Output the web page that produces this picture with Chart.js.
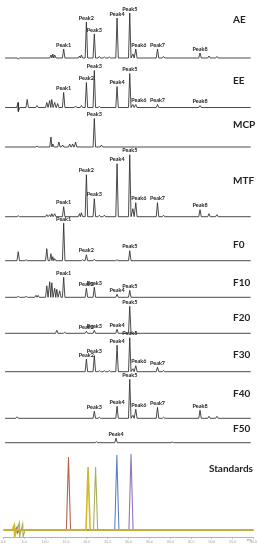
<!DOCTYPE html>
<html>
<head>
<meta charset="utf-8">
<title>HPLC chromatograms</title>
<script src="https://cdn.jsdelivr.net/npm/chart.js"></script>
<style>
  body { margin: 0; background: #fff; }
  #wrap { width: 258px; height: 550px; }
</style>
</head>
<body>
<div id="wrap"><canvas id="chromChart" width="258" height="550"></canvas></div>
<script>
// retention time (min), peak height (relative response), peak name
const aeTime   = [3.55, 11.4, 11.85, 12.3, 14.45, 18.25, 18.7, 19.9, 21.8, 23.0, 24.2, 25.4, 27.25, 30.3, 31.05, 31.75, 36.95, 38.4, 47.15, 49.3, 51.2];
const aeHeight = [-1, 3, 4, 3, 9, 2, 3, 36, 24, 1.5, 1, 1, 40, 45, 4, 9, 9, 1.5, 5, 2, 1.5];
const aePeak   = [null, null, null, null, 'Peak1', null, null, 'Peak2', 'Peak3', null, null, null, 'Peak4', 'Peak5', null, 'Peak6', 'Peak7', null, 'Peak8', null, null];

const eeTime   = [3.5, 3.6, 5.7, 8.05, 10.4, 11.1, 11.6, 12.3, 13.0, 14.45, 17.3, 18.7, 19.9, 21.8, 23.0, 27.25, 30.3, 31.05, 31.75, 36.95, 47.15];
const eeHeight = [5, -4, 8, 2, 5, 7, 8, 5, 4, 15, 1.5, 2, 25, 37, 1, 21, 34, 3, 3, 3, 2];
const eePeak   = [null, null, null, null, null, null, null, null, null, 'Peak1', null, null, 'Peak2', 'Peak3', null, 'Peak4', 'Peak5', null, 'Peak6', 'Peak7', 'Peak8'];

const mcpTime   = [8.05, 11.4, 11.85, 13.3, 14.2, 15.9, 16.6, 17.3, 21.8, 23.5];
const mcpHeight = [1, 10, 3, 5, 2, 3, 3, 5, 28.5, 2];
const mcpPeak   = [null, null, null, null, null, null, null, null, 'Peak3', null];

const mtfTime   = [3.55, 10.4, 11.1, 11.6, 12.3, 14.45, 18.25, 18.7, 19.9, 21.8, 23.0, 24.2, 27.25, 30.3, 31.05, 31.75, 36.95, 38.4, 47.15, 49.3, 51.2];
const mtfHeight = [1, 2, 2, 3, 3, 10, 3, 4, 42, 18, 1.5, 1.5, 53, 62, 8, 14, 14, 1.5, 7, 3, 2];
const mtfPeak   = [null, null, null, null, null, 'Peak1', null, null, 'Peak2', 'Peak3', null, null, 'Peak4', 'Peak5', null, 'Peak6', 'Peak7', null, 'Peak8', null, null];

const f0Time   = [3.55, 5.45, 10.4, 11.4, 11.85, 12.3, 14.45, 19.0, 19.9, 21.8, 27.25, 30.3];
const f0Height = [9, 1, 12, 7, 4, 2, 37.5, 1, 6, 1.5, 1, 10];
const f0Peak   = [null, null, null, null, null, null, 'Peak1', null, 'Peak2', null, null, 'Peak5'];

const f10Time   = [3.55, 5.45, 7.8, 8.3, 10.4, 11.1, 11.6, 12.3, 12.8, 13.5, 14.45, 19.9, 21.8, 27.25, 30.3];
const f10Height = [1, 1, 2, 2, 11.5, 15.5, 14.5, 9, 8, 6.5, 20, 9, 10, 3, 7];
const f10Peak   = [null, null, null, null, null, null, null, null, null, null, 'Peak1', 'Peak2', 'Peak3', 'Peak4', 'Peak5'];

const f20Time   = [12.8, 14.7, 19.9, 21.8, 27.25, 30.3];
const f20Height = [3, 1, 2, 3, 4, 27];
const f20Peak   = [null, null, 'Peak2', 'Peak3', 'Peak4', 'Peak5'];

const f30Time   = [19.9, 21.8, 23.0, 24.2, 25.4, 27.25, 30.3, 31.05, 31.75, 36.95, 38.4];
const f30Height = [12.5, 16, 1, 1, 1, 26.5, 34, 3, 6, 4.5, 1];
const f30Peak   = ['Peak2', 'Peak3', null, null, null, 'Peak4', 'Peak5', null, 'Peak6', 'Peak7', null];

const f40Time   = [3.3, 21.8, 23.0, 27.25, 30.3, 31.05, 31.75, 36.95, 38.4, 47.15, 49.3, 51.2];
const f40Height = [1.5, 7, 1, 12, 39, 3, 9, 11, 1, 8, 2, 2];
const f40Peak   = [null, 'Peak3', null, 'Peak4', 'Peak5', null, 'Peak6', 'Peak7', null, 'Peak8', null, null];

const f50Time   = [22.3, 27.0, 40.5];
const f50Height = [1, 4.5, 0.7];
const f50Peak   = [null, 'Peak4', null];

// standards, one trace per compound (first one is drawn on top)
const stdNames  = ['yellow', 'olive', 'red', 'blue', 'purple'];
const stdTime   = [[2.6, 2.7, 20.3], [3.8, 3.9, 4.6, 4.7, 22.1], [3.3, 3.4, 15.6], [27.2], [30.6]];
const stdHeight = [[5, -7, 63], [7, -7, 6, -7, 63], [3, -3, 73], [75], [76]];

const xTicks = [0, 5, 10, 15, 20, 25, 30, 35, 40, 45, 50, 55, 60];

// layout: baseline pixel and name label pixel for each trace
const panels = [
  { name: 'AE',  time: aeTime,  height: aeHeight,  peak: aePeak,  base: 58,    nameY: 20 },
  { name: 'EE',  time: eeTime,  height: eeHeight,  peak: eePeak,  base: 107.5, nameY: 81 },
  { name: 'MCP', time: mcpTime, height: mcpHeight, peak: mcpPeak, base: 147,   nameY: 125 },
  { name: 'MTF', time: mtfTime, height: mtfHeight, peak: mtfPeak, base: 216.7, nameY: 181 },
  { name: 'F0',  time: f0Time,  height: f0Height,  peak: f0Peak,  base: 260.7, nameY: 245 },
  { name: 'F10', time: f10Time, height: f10Height, peak: f10Peak, base: 297.3, nameY: 283 },
  { name: 'F20', time: f20Time, height: f20Height, peak: f20Peak, base: 333.3, nameY: 318 },
  { name: 'F30', time: f30Time, height: f30Height, peak: f30Peak, base: 371.7, nameY: 355 },
  { name: 'F40', time: f40Time, height: f40Height, peak: f40Peak, base: 418.3, nameY: 394 },
  { name: 'F50', time: f50Time, height: f50Height, peak: f50Peak, base: 442.7, nameY: 429 }
];
const stdBase = 530;
const stdNameY = 469;
const stdColors = { purple: '#9474bd', blue: '#5f83c9', red: '#b3654f', olive: '#a8ae5c', yellow: '#d2b92c' };

const AREA_H = 537; // chart area height, x axis below

// peak list -> line points (baseline feet either side of each apex)
function tracePoints(times, heights, w, t0, t1) {
  const pts = [{ x: t0, y: 0 }];
  for (let i = 0; i < times.length; i++) {
    const t = times[i];
    let left = t - w, right = t + w;
    if (i > 0) left = Math.max(left, (times[i - 1] + t) / 2);
    if (i < times.length - 1) right = Math.min(right, (t + times[i + 1]) / 2);
    if (pts[pts.length - 1].x < left) pts.push({ x: left, y: 0 });
    pts.push({ x: t, y: heights[i] });
    pts.push({ x: right, y: 0 });
  }
  pts.push({ x: t1, y: 0 });
  return pts;
}

const datasets = [];
const scales = {
  x: {
    type: 'linear', min: 0, max: 60,
    afterBuildTicks: function(s) { s.ticks = xTicks.map(v => ({ value: v })); },
    afterFit: function(s) { s.height = 550 - AREA_H; },
    grid: { drawOnChartArea: false, drawTicks: true, tickLength: 2, color: '#a0a0a0', lineWidth: 0.6 },
    border: { color: '#a0a0a0', width: 0.8 },
    ticks: { font: { size: 3.5, family: 'Liberation Sans' }, color: '#999', padding: 1, maxRotation: 0, autoSkip: false,
             callback: v => v.toFixed(1) }
  }
};

panels.forEach((p, i) => {
  const id = 'y' + i;
  scales[id] = { type: 'linear', display: false, min: p.base - AREA_H, max: p.base };
  datasets.push({
    label: p.name,
    yAxisID: id,
    data: tracePoints(p.time, p.height, 0.3, 0.4, 59.3),
    borderColor: '#2a2a2a',
    borderWidth: 0.85,
    pointRadius: 0,
    peakNames: p.peak,
    peakTimes: p.time,
    peakHeights: p.height,
    nameY: p.nameY
  });
});

scales.yStd = { type: 'linear', display: false, min: stdBase - AREA_H, max: stdBase };
stdNames.forEach((c, i) => {
  datasets.push({
    label: 'Standards ' + c,
    yAxisID: 'yStd',
    data: tracePoints(stdTime[i], stdHeight[i], 0.5, 0, 60),
    borderColor: stdColors[c],
    borderWidth: c === 'yellow' ? 1.6 : 1.1,
    pointRadius: 0
  });
});

const labelPlugin = {
  id: 'peakLabels',
  afterDatasetsDraw(chart) {
    const ctx = chart.ctx;
    const x = chart.scales.x;
    ctx.save();
    ctx.fillStyle = '#222';
    chart.data.datasets.forEach(ds => {
      if (!ds.peakNames) return;
      const y = chart.scales[ds.yAxisID];
      ctx.font = 'bold 5.5px Lato';
      ctx.textAlign = 'center';
      ctx.textBaseline = 'alphabetic';
      ds.peakNames.forEach((n, i) => {
        if (!n) return;
        const nudge = n === 'Peak6' ? 3 : 0;
        ctx.fillText(n, x.getPixelForValue(ds.peakTimes[i]) + nudge, y.getPixelForValue(ds.peakHeights[i]) - 2.5);
      });
      ctx.font = 'bold 10px Lato';
      ctx.textAlign = 'left';
      ctx.textBaseline = 'middle';
      ctx.fillText(ds.label, 233, ds.nameY);
    });
    ctx.font = 'bold 10px Lato';
    ctx.textAlign = 'right';
    ctx.textBaseline = 'middle';
    ctx.fillText('Standards', 253, stdNameY);
    ctx.font = '3px Liberation Sans';
    ctx.fillStyle = '#888';
    ctx.textAlign = 'right';
    ctx.fillText('min', x.right - 2, x.top + 3.5);
    ctx.restore();
  }
};

new Chart(document.getElementById('chromChart').getContext('2d'), {
  type: 'line',
  data: { datasets: datasets },
  options: {
    responsive: false,
    animation: false,
    layout: { padding: { left: 3, right: 2, top: 0, bottom: 0 } },
    plugins: { legend: { display: false }, tooltip: { enabled: false } },
    elements: { line: { tension: 0 } },
    scales: scales
  },
  plugins: [labelPlugin]
});
</script>
</body>
</html>
